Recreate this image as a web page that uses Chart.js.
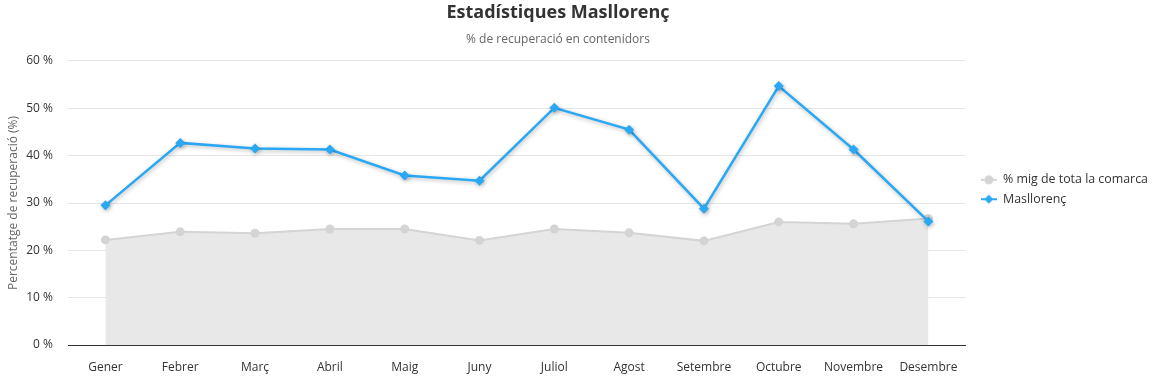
<!DOCTYPE html>
<html>
<head>
<meta charset="utf-8">
<script src="https://cdn.jsdelivr.net/npm/chart.js@4"></script>
<style>
  html, body { margin: 0; padding: 0; background: #fff; }
  #wrap { width: 1158px; height: 377px; }
</style>
</head>
<body>
<div id="wrap"><canvas id="grafic"></canvas></div>
<script>
// dades
const mesos = ["Gener", "Febrer", "Març", "Abril", "Maig", "Juny", "Juliol", "Agost", "Setembre", "Octubre", "Novembre", "Desembre"];
const mitjanaComarca = [22.2, 23.9, 23.6, 24.5, 24.5, 22.1, 24.5, 23.7, 22.0, 26.0, 25.6, 26.7];
const masllorenc = [29.5, 42.7, 41.5, 41.3, 35.8, 34.7, 50.1, 45.5, 28.8, 54.7, 41.3, 26.1];
const ticksY = [0, 10, 20, 30, 40, 50, 60];

const GRIS = "#d4d4d4";
const BLAU = "#2aa8f4";
const FONT = "'Open Sans', 'Noto Sans', sans-serif";

// icones de la llegenda: línia + marcador
function iconaLlegenda(color, forma) {
  const c = document.createElement("canvas");
  c.width = 16; c.height = 12;
  const g = c.getContext("2d");
  g.strokeStyle = color; g.lineWidth = 2;
  g.beginPath(); g.moveTo(0, 6); g.lineTo(16, 6); g.stroke();
  g.fillStyle = color;
  g.beginPath();
  if (forma === "circle") {
    g.arc(8, 6, 4.5, 0, Math.PI * 2);
  } else {
    g.moveTo(8, 1.5); g.lineTo(12.5, 6); g.lineTo(8, 10.5); g.lineTo(3.5, 6); g.closePath();
  }
  g.fill();
  return c;
}
const icones = [iconaLlegenda(GRIS, "circle"), iconaLlegenda(BLAU, "diamond")];

// ombra de la línia blava
const ombra = {
  id: "ombra",
  beforeDatasetDraw(chart, args) {
    if (args.index !== 1) return;
    const ctx = chart.ctx;
    ctx.save();
    ctx.shadowColor = "rgba(0,0,0,0.28)";
    ctx.shadowBlur = 4;
    ctx.shadowOffsetX = 1;
    ctx.shadowOffsetY = 1.5;
  },
  afterDatasetDraw(chart, args) {
    if (args.index !== 1) return;
    chart.ctx.restore();
  }
};

// el títol i subtítol no queden centrats del tot (com a l'original)
const titolDesplacat = {
  id: "titolDesplacat",
  afterLayout(chart) {
    chart.boxes.forEach(b => {
      if (b.position === "top") b.right = b.right - 48;
    });
  }
};

new Chart(document.getElementById("grafic"), {
  type: "line",
  data: {
    labels: mesos,
    datasets: [
      {
        label: "% mig de tota la comarca",
        data: mitjanaComarca,
        borderColor: GRIS,
        backgroundColor: "#e8e8e8",
        pointBackgroundColor: GRIS,
        pointBorderWidth: 0,
        pointRadius: 4.5,
        pointStyle: "circle",
        borderWidth: 2,
        fill: "origin",
        tension: 0,
        order: 1
      },
      {
        label: "Masllorenç",
        data: masllorenc,
        borderColor: BLAU,
        backgroundColor: BLAU,
        pointBackgroundColor: BLAU,
        pointBorderWidth: 0,
        pointRadius: 5,
        pointStyle: "rectRot",
        borderWidth: 2.5,
        fill: false,
        tension: 0,
        order: 0
      }
    ]
  },
  options: {
    responsive: true,
    maintainAspectRatio: false,
    animation: false,
    layout: { padding: { left: 6, right: 0, top: 2, bottom: 0 } },
    plugins: {
      title: {
        display: true,
        text: "Estadístiques Masllorenç",
        color: "#333",
        font: { family: FONT, size: 18, weight: "bold" },
        padding: { top: 0, bottom: 9 }
      },
      subtitle: {
        display: true,
        text: "% de recuperació en contenidors",
        color: "#666",
        font: { family: FONT, size: 12 },
        padding: { top: 0, bottom: 14 }
      },
      legend: {
        position: "right",
        labels: {
          usePointStyle: true,
          pointStyleWidth: 16,
          color: "#333",
          font: { family: FONT, size: 12.4 },
          padding: 7,
          sort: (a, b) => a.datasetIndex - b.datasetIndex,
          generateLabels(chart) {
            const items = Chart.defaults.plugins.legend.labels.generateLabels(chart);
            items.forEach(it => { it.pointStyle = icones[it.datasetIndex]; });
            return items;
          }
        }
      },
      tooltip: { enabled: false }
    },
    scales: {
      x: {
        offset: true,
        grid: { display: false },
        border: { display: true, color: "#333", width: 1 },
        ticks: { color: "#333", font: { family: FONT, size: 12 }, padding: 7, maxRotation: 0, autoSkip: false },
        afterFit(axis) { axis.height = 32; }
      },
      y: {
        min: ticksY[0],
        max: ticksY[ticksY.length - 1],
        afterBuildTicks(axis) { axis.ticks = ticksY.map(v => ({ value: v })); },
        grid: { color: "#e6e6e6", drawTicks: false },
        border: { display: false },
        ticks: {
          color: "#333",
          font: { family: FONT, size: 12 },
          padding: 15,
          callback: v => v + " %"
        },
        title: {
          display: true,
          text: "Percentatge de recuperació (%)",
          color: "#666",
          font: { family: FONT, size: 12 },
          padding: { top: 0, bottom: 0 }
        },
        afterFit(axis) { axis.width = 62; }
      },
      espai: {
        type: "linear",
        position: "right",
        display: true,
        grid: { display: false },
        border: { display: false },
        ticks: { display: false },
        afterFit(axis) { axis.width = 8; }
      }
    }
  },
  plugins: [ombra, titolDesplacat]
});
</script>
</body>
</html>
